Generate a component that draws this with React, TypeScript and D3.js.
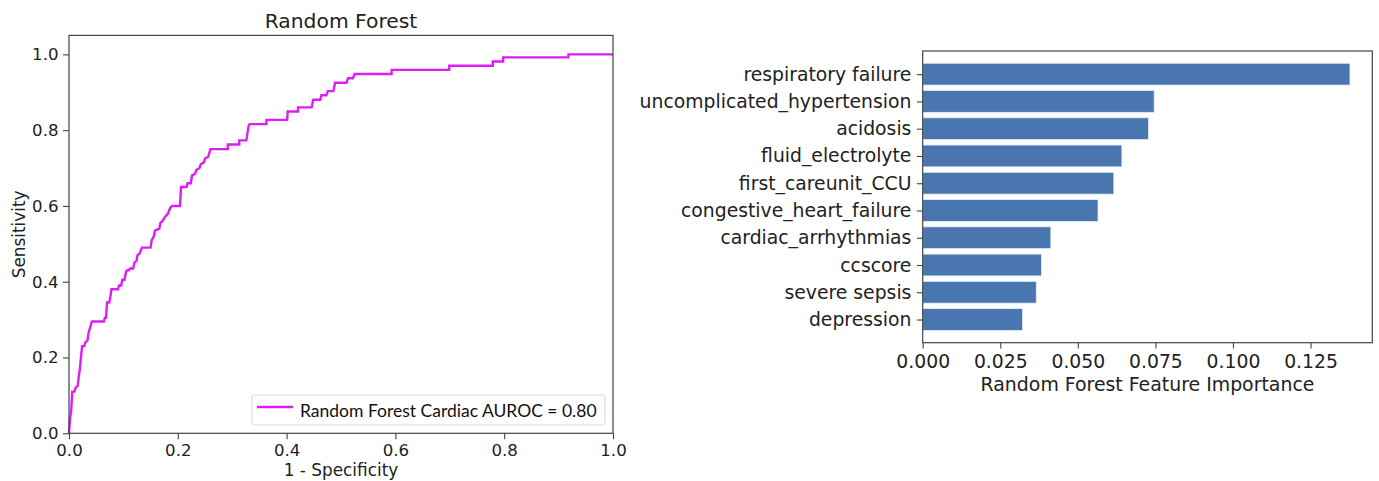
import React, { useEffect, useRef } from 'react';
import * as d3 from 'd3';

// ROC curve vertices (1 - specificity, sensitivity)
const rocFpr = [
  0, 0.002, 0.004, 0.006, 0.010, 0.012, 0.016, 0.018, 0.020, 0.024, 0.028, 0.030, 0.034, 0.036, 0.040, 0.042,
  0.064, 0.066, 0.068, 0.070, 0.074, 0.076, 0.078, 0.090, 0.092, 0.096, 0.098, 0.102, 0.104, 0.106, 0.110,
  0.112, 0.118, 0.120, 0.124, 0.126, 0.130, 0.134, 0.150, 0.152, 0.156, 0.158, 0.166, 0.168, 0.172, 0.176,
  0.182, 0.186, 0.190, 0.204, 0.206, 0.216, 0.218, 0.224, 0.226, 0.232, 0.234, 0.240, 0.242, 0.248, 0.250,
  0.256, 0.260, 0.292, 0.292, 0.313, 0.313, 0.326, 0.330, 0.332, 0.363, 0.363, 0.401, 0.402, 0.421, 0.421,
  0.446, 0.449, 0.462, 0.464, 0.473, 0.476, 0.486, 0.489, 0.510, 0.513, 0.522, 0.525, 0.593, 0.593, 0.699,
  0.699, 0.779, 0.779, 0.798, 0.798, 0.918, 0.918, 1.0
];
const rocTpr = [
  0, 0.04, 0.06, 0.11, 0.11, 0.12, 0.125, 0.15, 0.17, 0.23, 0.23, 0.24, 0.245, 0.265, 0.285, 0.295,
  0.295, 0.305, 0.305, 0.345, 0.345, 0.36, 0.38, 0.38, 0.39, 0.39, 0.405, 0.405, 0.42, 0.43, 0.43,
  0.435, 0.435, 0.45, 0.455, 0.47, 0.475, 0.49, 0.49, 0.51, 0.52, 0.535, 0.54, 0.555, 0.56, 0.57,
  0.58, 0.595, 0.60, 0.60, 0.65, 0.65, 0.66, 0.66, 0.68, 0.685, 0.695, 0.70, 0.71, 0.715, 0.725,
  0.73, 0.75, 0.75, 0.762, 0.762, 0.773, 0.773, 0.81, 0.816, 0.816, 0.827, 0.827, 0.849, 0.849, 0.860,
  0.860, 0.880, 0.880, 0.892, 0.892, 0.903, 0.903, 0.925, 0.925, 0.937, 0.937, 0.948, 0.948, 0.959, 0.959,
  0.970, 0.970, 0.981, 0.981, 0.992, 0.992, 1.0, 1.0
];
const rocTicks = [0, 0.2, 0.4, 0.6, 0.8, 1.0];
const rocLegend = 'Random Forest Cardiac AUROC = 0.80';

const features = [
  'respiratory failure', 'uncomplicated_hypertension', 'acidosis', 'fluid_electrolyte', 'first_careunit_CCU',
  'congestive_heart_failure', 'cardiac_arrhythmias', 'ccscore', 'severe sepsis', 'depression'
];
const importances = [0.1377, 0.0746, 0.0728, 0.0642, 0.0616, 0.0565, 0.0413, 0.0383, 0.0366, 0.0322];
const importanceTicks = [0, 0.025, 0.05, 0.075, 0.1, 0.125];

const FONT = 'DejaVu Sans, sans-serif';
const INK = '#222';

export default function App() {
  const ref = useRef<SVGSVGElement | null>(null);

  useEffect(() => {
    if (!ref.current) return;
    const svg = d3.select(ref.current);
    svg.selectAll('*').remove();

    // ---------- left: ROC ----------
    const L = { left: 69, right: 613, top: 35.4, bottom: 433.3 };
    const x = d3.scaleLinear().domain([0, 1]).range([L.left, L.right]);
    const y = d3.scaleLinear().domain([0, 1.05]).range([L.bottom, L.top]);

    const gx = svg.append('g')
      .attr('transform', `translate(0,${L.bottom})`)
      .call(d3.axisBottom(x).tickValues(rocTicks).tickFormat(d3.format('.1f')).tickSizeOuter(0).tickSize(6).tickPadding(4.5));
    const gy = svg.append('g')
      .attr('transform', `translate(${L.left},0)`)
      .call(d3.axisLeft(y).tickValues(rocTicks).tickFormat(d3.format('.1f')).tickSizeOuter(0).tickSize(6).tickPadding(4.5));
    [gx, gy].forEach(g => {
      g.select('.domain').remove();
      g.selectAll('line').attr('stroke', '#444').attr('stroke-width', 1.1);
      g.selectAll('text').attr('fill', INK).style('font-family', FONT).style('font-size', '16.6px');
    });

    const pts: [number, number][] = rocFpr.map((f, i) => [f, rocTpr[i]]);
    svg.append('path')
      .datum(pts)
      .attr('fill', 'none')
      .attr('stroke', '#dc1ef5')
      .attr('stroke-width', 2.4)
      .attr('stroke-linejoin', 'miter')
      .attr('d', d3.line<[number, number]>().x(d => x(d[0])).y(d => y(d[1])));

    svg.append('rect')
      .attr('x', L.left).attr('y', L.top)
      .attr('width', L.right - L.left).attr('height', L.bottom - L.top)
      .attr('fill', 'none').attr('stroke', '#444').attr('stroke-width', 1.2);

    svg.append('text')
      .attr('x', (L.left + L.right) / 2).attr('y', 28)
      .attr('text-anchor', 'middle')
      .style('font-family', FONT).style('font-size', '20.3px').attr('fill', INK)
      .text('Random Forest');
    svg.append('text')
      .attr('x', (L.left + L.right) / 2).attr('y', 475.5)
      .attr('text-anchor', 'middle')
      .style('font-family', FONT).style('font-size', '16.9px').attr('fill', INK)
      .text('1 - Specificity');
    svg.append('text')
      .attr('transform', `translate(25,${(L.top + L.bottom) / 2}) rotate(-90)`)
      .attr('text-anchor', 'middle')
      .style('font-family', FONT).style('font-size', '16.9px').attr('fill', INK)
      .text('Sensitivity');

    const lg = svg.append('g');
    lg.append('rect')
      .attr('x', 252).attr('y', 395).attr('width', 353).attr('height', 30).attr('rx', 3)
      .attr('fill', '#fff').attr('stroke', '#d8d8d8').attr('stroke-width', 1);
    lg.append('line')
      .attr('x1', 257).attr('x2', 293).attr('y1', 407).attr('y2', 407)
      .attr('stroke', '#dc1ef5').attr('stroke-width', 2.4);
    lg.append('text')
      .attr('x', 300).attr('y', 416.5)
      .style('font-family', 'Lato, sans-serif').style('font-size', '17.5px').attr('fill', '#111')
      .text(rocLegend);

    // ---------- right: feature importance ----------
    const R = { left: 922.7, right: 1372.3, top: 51, bottom: 342.7 };
    const xi = d3.scaleLinear().domain([0, 0.1449]).range([R.left, R.right]);
    const yi = d3.scaleLinear().domain([-0.85, 9.85]).range([R.bottom, R.top]);
    const pos = (i: number) => features.length - 1 - i;
    const bh = yi(0) - yi(0.8);

    svg.append('g').selectAll('rect')
      .data(importances)
      .enter().append('rect')
      .attr('x', xi(0))
      .attr('y', (d, i) => yi(pos(i)) - bh / 2)
      .attr('width', d => xi(d) - xi(0))
      .attr('height', bh)
      .attr('fill', '#4a76b0')
      .attr('stroke', '#e6edf6')
      .attr('stroke-width', 0.8);

    const gxi = svg.append('g')
      .attr('transform', `translate(0,${R.bottom})`)
      .call(d3.axisBottom(xi).tickValues(importanceTicks).tickFormat(d3.format('.3f')).tickSizeOuter(0).tickSize(5.8).tickPadding(6.5));
    const gyi = svg.append('g')
      .attr('transform', `translate(${R.left},0)`)
      .call(d3.axisLeft(yi).tickValues(features.map((_, i) => pos(i)))
        .tickFormat((d) => features[features.length - 1 - (d as number)]).tickSizeOuter(0).tickSize(5.8).tickPadding(5.5));
    [gxi, gyi].forEach(g => {
      g.select('.domain').remove();
      g.selectAll('line').attr('stroke', '#444').attr('stroke-width', 1.1);
      g.selectAll('text').attr('fill', INK).style('font-family', FONT).style('font-size', '18.8px');
    });

    svg.append('rect')
      .attr('x', R.left).attr('y', R.top)
      .attr('width', R.right - R.left).attr('height', R.bottom - R.top)
      .attr('fill', 'none').attr('stroke', '#444').attr('stroke-width', 1.2);

    svg.append('text')
      .attr('x', (R.left + R.right) / 2).attr('y', 391)
      .attr('text-anchor', 'middle')
      .style('font-family', FONT).style('font-size', '18.9px').attr('fill', INK)
      .text('Random Forest Feature Importance');
  }, []);

  return (
    <svg
      ref={ref}
      width={1379}
      height={481}
      style={{ position: 'absolute', left: 0, top: 0, background: '#fff' }}
    />
  );
}
